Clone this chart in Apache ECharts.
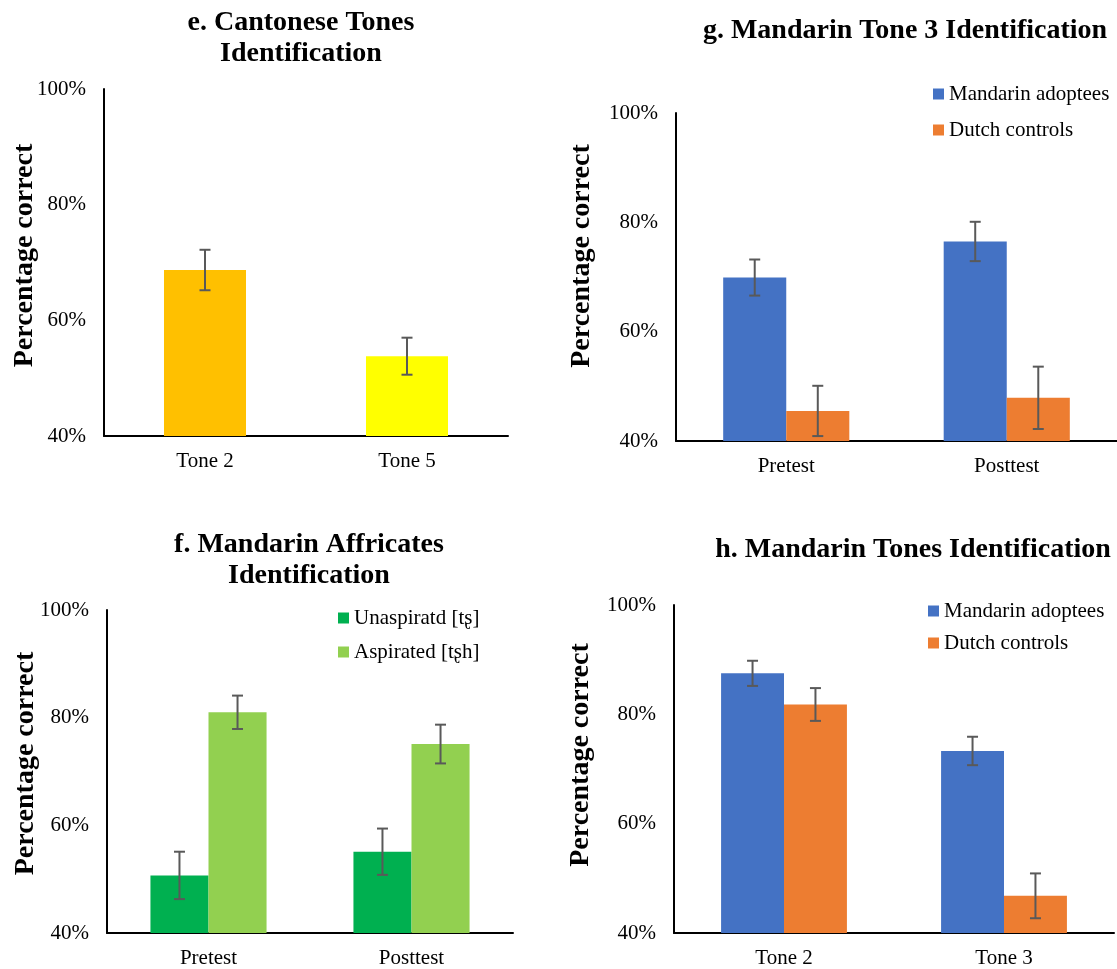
<!DOCTYPE html>
<html>
<head>
<meta charset="utf-8">
<script src="https://cdn.jsdelivr.net/npm/echarts@6/dist/echarts.min.js"></script>
<style>
html,body{margin:0;padding:0;background:#fff;}
#chart{width:1117px;height:969px;}
</style>
</head>
<body>
<div id="chart"></div>
<script>
// ---- Data ----
const yTicks = [40, 60, 80, 100];

// e. Cantonese Tones Identification
const eCats = ['Tone 2', 'Tone 5'];
const eValues = [68.7, 53.8];
const eErrors = [3.5, 3.2];
const eColors = ['#FFC000', '#FFFF00'];

// g. Mandarin Tone 3 Identification
const gCats = ['Pretest', 'Posttest'];
const gAdoptees = [69.9, 76.5];
const gAdopteesErr = [3.3, 3.6];
const gControls = [45.5, 47.9];
const gControlsErr = [4.6, 5.7];

// f. Mandarin Affricates Identification
const fCats = ['Pretest', 'Posttest'];
const fUnasp = [50.7, 55.1];
const fUnaspErr = [4.4, 4.3];
const fAsp = [81.0, 75.1];
const fAspErr = [3.1, 3.6];

// h. Mandarin Tones Identification
const hCats = ['Tone 2', 'Tone 3'];
const hAdoptees = [87.5, 73.3];
const hAdopteesErr = [2.3, 2.6];
const hControls = [81.8, 46.8];
const hControlsErr = [3.0, 4.1];

const seriesNames = {
  adoptees: 'Mandarin adoptees',
  controls: 'Dutch controls',
  unasp: 'Unaspiratd [tʂ]',
  asp: 'Aspirated [tʂh]'
};

// ---- Styling ----
const FONT = '"Liberation Serif", "Times New Roman", serif';
const BLUE = '#4472C4', ORANGE = '#ED7D31', DGREEN = '#00B050', LGREEN = '#92D050';
const ERR = '#595959';

function errData(vals, errs) { return vals.map((v, i) => [i, v, errs[i]]); }

function errRenderer(sign, ratio) {
  return function (params, api) {
    const idx = api.value(0), v = api.value(1), e = api.value(2);
    const catW = api.size([1, 0])[0];
    const off = sign * catW * ratio / 2;
    const hi = api.coord([idx, v + e]);
    const lo = api.coord([idx, v - e]);
    const cx = hi[0] + off;
    const cap = 5.5;
    const st = { stroke: ERR, lineWidth: 2 };
    return {
      type: 'group',
      children: [
        { type: 'line', shape: { x1: cx, y1: hi[1], x2: cx, y2: lo[1] }, style: st },
        { type: 'line', shape: { x1: cx - cap, y1: hi[1], x2: cx + cap, y2: hi[1] }, style: st },
        { type: 'line', shape: { x1: cx - cap, y1: lo[1], x2: cx + cap, y2: lo[1] }, style: st }
      ]
    };
  };
}

function xAxisFor(gi, cats) {
  return {
    type: 'category', gridIndex: gi, data: cats,
    axisLine: { show: true, lineStyle: { color: '#000', width: 2 } },
    axisTick: { show: false },
    axisLabel: { fontFamily: FONT, fontSize: 21, color: '#000', margin: 15 },
    splitLine: { show: false }
  };
}
function yAxisFor(gi, gap, shiftUp) {
  return {
    type: 'value', gridIndex: gi, min: yTicks[0], max: yTicks[yTicks.length - 1], interval: 20,
    axisLine: { show: true, lineStyle: { color: '#000', width: 2 } },
    axisTick: { show: false },
    splitLine: { show: false },
    axisLabel: { fontFamily: FONT, fontSize: 21, color: '#000', margin: 18, formatter: '{value}%' },
    name: 'Percentage correct', nameLocation: 'middle', nameRotate: 90, nameGap: gap,
    nameMoveOverlap: false,
    nameTextStyle: { fontFamily: FONT, fontSize: 28, fontWeight: 'bold', color: '#000',
      padding: [0, 0, 0, shiftUp * 2] }
  };
}
function titleFor(text, cx, top) {
  return {
    text: text, left: cx, top: top, textAlign: 'center', padding: 0,
    textStyle: { fontFamily: FONT, fontSize: 28, fontWeight: 'bold', color: '#000', lineHeight: 31 }
  };
}
function legendFor(names, left, top, gap) {
  return {
    data: names.map(n => ({ name: n })), orient: 'vertical', left: left, top: top, padding: 0,
    itemWidth: 11, itemHeight: 11, itemGap: gap, icon: 'rect',
    textStyle: { fontFamily: FONT, fontSize: 21, color: '#000', lineHeight: 22 }
  };
}

const GW = 0.286; // grouped bar width ratio
const option = {
  animation: false,
  backgroundColor: '#fff',
  textStyle: { fontFamily: FONT },
  title: [
    titleFor('e. Cantonese Tones\nIdentification', 301, 7),
    titleFor('g. Mandarin Tone 3 Identification', 905, 15),
    titleFor('f. Mandarin Affricates\nIdentification', 309, 529),
    titleFor('h. Mandarin Tones Identification', 913, 534)
  ],
  legend: [
    legendFor([seriesNames.adoptees, seriesNames.controls], 933, 83, 14),
    legendFor([seriesNames.unasp, seriesNames.asp], 338, 607, 12),
    legendFor([seriesNames.adoptees, seriesNames.controls], 928, 600, 10)
  ],
  grid: [
    { left: 104, top: 89, width: 404, height: 347 },
    { left: 676, top: 113, width: 446, height: 328 },
    { left: 107, top: 610, width: 406, height: 323 },
    { left: 674, top: 605, width: 440, height: 330 }
  ],
  xAxis: [xAxisFor(0, eCats), xAxisFor(1, gCats), xAxisFor(2, fCats), xAxisFor(3, hCats)],
  yAxis: [yAxisFor(0, 65, 7), yAxisFor(1, 80, 21), yAxisFor(2, 67, 8), yAxisFor(3, 79, 14)],
  series: [
    // e
    { type: 'bar', name: 'e', xAxisIndex: 0, yAxisIndex: 0, barWidth: '40.6%',
      data: eValues.map((v, i) => ({ value: v, itemStyle: { color: eColors[i] } })) },
    { type: 'custom', xAxisIndex: 0, yAxisIndex: 0, z: 5, renderItem: errRenderer(0, 0),
      encode: { x: 0, y: 1 }, data: errData(eValues, eErrors) },
    // g
    { type: 'bar', name: seriesNames.adoptees, xAxisIndex: 1, yAxisIndex: 1, barWidth: '28.6%', barGap: '0%',
      itemStyle: { color: BLUE }, data: gAdoptees },
    { type: 'bar', name: seriesNames.controls, xAxisIndex: 1, yAxisIndex: 1, barWidth: '28.6%', barGap: '0%',
      itemStyle: { color: ORANGE }, data: gControls },
    { type: 'custom', xAxisIndex: 1, yAxisIndex: 1, z: 5, renderItem: errRenderer(-1, GW),
      encode: { x: 0, y: 1 }, data: errData(gAdoptees, gAdopteesErr) },
    { type: 'custom', xAxisIndex: 1, yAxisIndex: 1, z: 5, renderItem: errRenderer(1, GW),
      encode: { x: 0, y: 1 }, data: errData(gControls, gControlsErr) },
    // f
    { type: 'bar', name: seriesNames.unasp, xAxisIndex: 2, yAxisIndex: 2, barWidth: '28.6%', barGap: '0%',
      itemStyle: { color: DGREEN }, data: fUnasp },
    { type: 'bar', name: seriesNames.asp, xAxisIndex: 2, yAxisIndex: 2, barWidth: '28.6%', barGap: '0%',
      itemStyle: { color: LGREEN }, data: fAsp },
    { type: 'custom', xAxisIndex: 2, yAxisIndex: 2, z: 5, renderItem: errRenderer(-1, GW),
      encode: { x: 0, y: 1 }, data: errData(fUnasp, fUnaspErr) },
    { type: 'custom', xAxisIndex: 2, yAxisIndex: 2, z: 5, renderItem: errRenderer(1, GW),
      encode: { x: 0, y: 1 }, data: errData(fAsp, fAspErr) },
    // h
    { type: 'bar', name: seriesNames.adoptees, xAxisIndex: 3, yAxisIndex: 3, barWidth: '28.6%', barGap: '0%',
      itemStyle: { color: BLUE }, data: hAdoptees },
    { type: 'bar', name: seriesNames.controls, xAxisIndex: 3, yAxisIndex: 3, barWidth: '28.6%', barGap: '0%',
      itemStyle: { color: ORANGE }, data: hControls },
    { type: 'custom', xAxisIndex: 3, yAxisIndex: 3, z: 5, renderItem: errRenderer(-1, GW),
      encode: { x: 0, y: 1 }, data: errData(hAdoptees, hAdopteesErr) },
    { type: 'custom', xAxisIndex: 3, yAxisIndex: 3, z: 5, renderItem: errRenderer(1, GW),
      encode: { x: 0, y: 1 }, data: errData(hControls, hControlsErr) }
  ]
};

const chart = echarts.init(document.getElementById('chart'), null, { renderer: 'canvas' });
chart.setOption(option);
</script>
</body>
</html>
